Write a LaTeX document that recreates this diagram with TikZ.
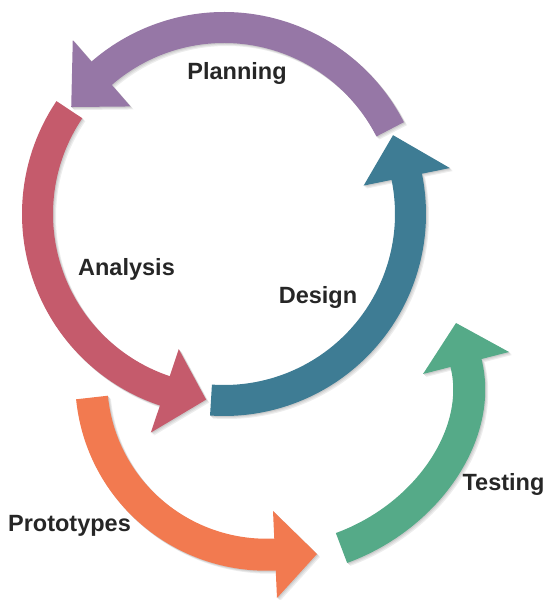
\documentclass[tikz,border=0pt]{standalone}
\usepackage{fontspec}
\setmainfont{Liberation Sans}
\usepackage{xcolor}
\definecolor{planc}{HTML}{9677A6}
\definecolor{analc}{HTML}{C55B6C}
\definecolor{desgc}{HTML}{3E7C94}
\definecolor{protc}{HTML}{F27A50}
\definecolor{testc}{HTML}{55AA88}
% one bent arrow on the big ring: colour, tail, head base, tip (angles)
\newcommand{\ringarrow}[4]{%
\draw[band,#1] ([shift={(ctr)}]#2:186.5pt) arc[start angle=#2, end angle=#3+0.5, radius=186.5pt];
\fill[#1] ([shift={(ctr)}]#3:142.5pt) -- ([shift={(ctr)}]#4:186.5pt) -- ([shift={(ctr)}]#3:230.5pt) -- cycle;
}
\newcommand{\allarrows}[1]{%
\ringarrow{planc,#1}{27}{131}{145}
\ringarrow{analc,#1}{146}{251.5}{264.5}
\ringarrow{desgc,#1}{266}{371.5}{385}
%
\draw[bandwide,protc,#1] (proto-tail) .. controls (101.5,107.5) and (184,41) .. (proto-base) -- ++(1.5,0.07);
\fill[protc,#1] (proto-up) -- (proto-tip) -- (proto-down) -- cycle;
\draw[bandwide,testc,#1] (test-tail) .. controls (427.5,83.5) and (483.6,166.7) .. (test-base) -- ++(-0.36,1.45);
\fill[testc,#1] (test-left) -- (test-tip) -- (test-right) -- cycle;
}

\begin{document}
\begin{tikzpicture}[
                 x=1pt, y=1pt,
                 band/.style={line width=31pt},
                 bandwide/.style={line width=32pt},
                 lbl/.style={font=\bfseries\fontsize{23.5}{28}\selectfont, text=black!85, anchor=base, inner sep=0pt}
                 ]
\useasboundingbox (0,0) rectangle (546,600);
\coordinate (ctr) at (224,386);
%
\coordinate (proto-tail) at (92,202.5);
\coordinate (proto-base) at (275,45.5);
\coordinate (proto-tip) at (317,46);
\coordinate (proto-up) at (273,89);
\coordinate (proto-down) at (277,2);
%
\coordinate (test-tail) at (341.5,52);
\coordinate (test-base) at (466,237);
\coordinate (test-tip) at (456,277);
\coordinate (test-left) at (423,226);
\coordinate (test-right) at (509,248);
% soft shadow
\foreach \d/\g in {3/7,2/13,1/20}{
  \begin{scope}[transform canvas={shift={(\d pt,-\d pt)}}]
    \allarrows{black!\g}
  \end{scope}
}
\allarrows{}
%
\node[lbl] (planning) at (237,520) {Planning};
\node[lbl] (analysis) at (126.5,324) {Analysis};
\node[lbl] (design) at (318,296) {Design};
\node[lbl] (prototypes) at (69.5,68) {Prototypes};
\node[lbl] (testing) at (503.5,109) {Testing};
\end{tikzpicture}
\end{document}
